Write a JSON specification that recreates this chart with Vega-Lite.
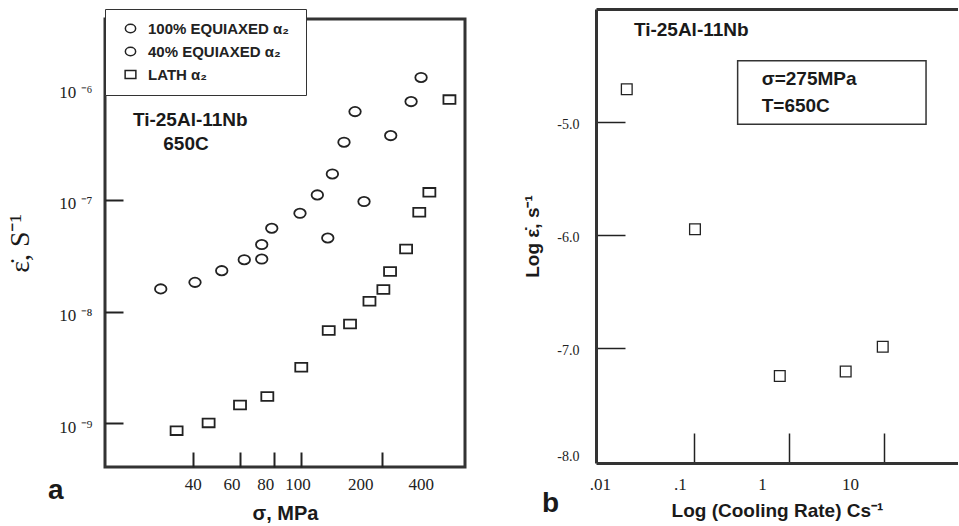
{
  "$schema": "https://vega.github.io/schema/vega-lite/v6.json",
  "background": "white",
  "padding": {"left": 5, "top": 8, "right": 0, "bottom": 0},
  "spacing": 56,
  "config": {
    "view": {"stroke": null},
    "font": "Liberation Sans",
    "axis": {"grid": false, "labelColor": "#222", "titleColor": "#1a1a1a", "tickColor": "#222", "domainColor": "#333"}
  },
  "hconcat": [
    {
      "spacing": 7,
      "vconcat": [
        {
          "width": 360,
          "height": 1,
          "view": {"stroke": null},
          "data": {"values": []},
          "mark": "point"
        },
        {
          "width": 360,
          "height": 448,
          "view": {"stroke": "#333", "strokeWidth": 3},
          "title": {"text": "a", "orient": "bottom", "anchor": "start", "frame": "group", "dx": -57, "dy": -46, "offset": 0, "fontSize": 28, "font": "Liberation Sans", "fontWeight": "bold", "color": "#1a1a1a"},
          "resolve": {"axis": {"x": "independent", "y": "independent"}},
          "layer": [
            {
              "data": {"values": [
                {"stress": 30.5, "rate": 1.60e-8, "series": "100% EQUIAXED  α₂"},
                {"stress": 40.8, "rate": 1.83e-8, "series": "100% EQUIAXED  α₂"},
                {"stress": 51.2, "rate": 2.33e-8, "series": "100% EQUIAXED  α₂"},
                {"stress": 62.0, "rate": 2.92e-8, "series": "100% EQUIAXED  α₂"},
                {"stress": 71.9, "rate": 2.96e-8, "series": "100% EQUIAXED  α₂"},
                {"stress": 71.9, "rate": 3.99e-8, "series": "100% EQUIAXED  α₂"},
                {"stress": 78.3, "rate": 5.58e-8, "series": "100% EQUIAXED  α₂"},
                {"stress": 99.5, "rate": 7.60e-8, "series": "100% EQUIAXED  α₂"},
                {"stress": 115.3, "rate": 1.11e-7, "series": "100% EQUIAXED  α₂"},
                {"stress": 131, "rate": 1.71e-7, "series": "100% EQUIAXED  α₂"},
                {"stress": 144.6, "rate": 3.29e-7, "series": "100% EQUIAXED  α₂"},
                {"stress": 158.8, "rate": 6.18e-7, "series": "100% EQUIAXED  α₂"},
                {"stress": 126, "rate": 4.57e-8, "series": "40% EQUIAXED  α₂"},
                {"stress": 171.4, "rate": 9.68e-8, "series": "40% EQUIAXED  α₂"},
                {"stress": 215, "rate": 3.77e-7, "series": "40% EQUIAXED  α₂"},
                {"stress": 255.6, "rate": 7.60e-7, "series": "40% EQUIAXED  α₂"},
                {"stress": 278.2, "rate": 1.25e-6, "series": "40% EQUIAXED  α₂"},
                {"stress": 34.9, "rate": 8.61e-10, "series": "LATH α₂"},
                {"stress": 45.8, "rate": 1.01e-9, "series": "LATH α₂"},
                {"stress": 59.8, "rate": 1.46e-9, "series": "LATH α₂"},
                {"stress": 75.4, "rate": 1.74e-9, "series": "LATH α₂"},
                {"stress": 100.6, "rate": 3.18e-9, "series": "LATH α₂"},
                {"stress": 127, "rate": 6.78e-9, "series": "LATH α₂"},
                {"stress": 152.2, "rate": 7.76e-9, "series": "LATH α₂"},
                {"stress": 179.5, "rate": 1.24e-8, "series": "LATH α₂"},
                {"stress": 202, "rate": 1.58e-8, "series": "LATH α₂"},
                {"stress": 213.8, "rate": 2.29e-8, "series": "LATH α₂"},
                {"stress": 245, "rate": 3.64e-8, "series": "LATH α₂"},
                {"stress": 274, "rate": 7.76e-8, "series": "LATH α₂"},
                {"stress": 298.5, "rate": 1.17e-7, "series": "LATH α₂"},
                {"stress": 354, "rate": 7.92e-7, "series": "LATH α₂"}
              ]},
              "mark": {"type": "point", "filled": false, "color": "#222", "strokeWidth": 1.8, "size": 100, "opacity": 1},
              "encoding": {
                "x": {
                  "field": "stress", "type": "quantitative",
                  "scale": {"type": "log", "domain": [19, 404], "nice": false},
                  "axis": {
                    "values": [40, 60, 80, 100, 200, 400],
                    "format": "d",
                    "title": "σ, MPa",
                    "domain": false,
                    "tickSize": -15,
                    "tickWidth": 2,
                    "tickOpacity": {"condition": {"test": "datum.value > 300", "value": 0}, "value": 1},
                    "labelOffset": {"condition": [
                      {"test": "datum.value > 300", "value": -43},
                      {"test": "datum.value > 150", "value": -22},
                      {"test": "datum.value > 90", "value": -3},
                      {"test": "datum.value > 50", "value": -9}
                    ], "value": 0},
                    "labelPadding": 24,
                    "labelFont": "Liberation Serif",
                    "labelFontSize": 17,
                    "labelOverlap": false,
                    "labelFlush": false,
                    "labelBound": false,
                    "titleFont": "Liberation Sans",
                    "titleFontWeight": "bold",
                    "titleFontSize": 20,
                    "titlePadding": 11
                  }
                },
                "y": {
                  "field": "rate", "type": "quantitative",
                  "scale": {"type": "log", "domain": [4.07e-10, 4.17e-6], "nice": false},
                  "axis": {
                    "values": [1e-9, 1e-8, 1e-7, 1e-6],
                    "labelExpr": "datum.value < 5e-9 ? '10 ⁻⁹' : datum.value < 5e-8 ? '10 ⁻⁸' : datum.value < 5e-7 ? '10 ⁻⁷' : '10 ⁻⁶'",
                    "title": "ε̇, S⁻¹",
                    "domain": false,
                    "tickSize": -18,
                    "tickWidth": 2,
                    "labelPadding": 31,
                    "labelOffset": 4,
                    "labelFont": "Liberation Serif",
                    "labelFontSize": 17,
                    "labelOverlap": false,
                    "labelFlush": false,
                    "labelBound": false,
                    "titleFont": "Liberation Serif",
                    "titleFontWeight": "normal",
                    "titleFontSize": 28,
                    "titlePadding": 24
                  }
                },
                "shape": {
                  "field": "series", "type": "nominal",
                  "scale": {
                    "domain": ["100% EQUIAXED  α₂", "40% EQUIAXED  α₂", "LATH α₂"],
                    "range": [
                      "M-1.15,0A1.15,0.93,0,1,1,1.15,0A1.15,0.93,0,1,1,-1.15,0Z",
                      "M-1.15,0A1.15,0.93,0,1,1,1.15,0A1.15,0.93,0,1,1,-1.15,0Z",
                      "M-1.2,-0.87H1.2V0.87H-1.2Z"
                    ]
                  },
                  "legend": {
                    "title": null,
                    "orient": "top-left",
                    "offset": 0,
                    "strokeColor": "#333",
                    "fillColor": "white",
                    "padding": 12,
                    "rowPadding": 7,
                    "symbolOffset": 6,
                    "symbolSize": 80,
                    "symbolStrokeWidth": 1.5,
                    "symbolStrokeColor": "#222",
                    "labelOffset": 10,
                    "labelFont": "Liberation Sans",
                    "labelFontWeight": "bold",
                    "labelFontSize": 15,
                    "labelColor": "#222",
                    "labelLimit": 400,
                    "labelExpr": "datum.label + '\u00a0\u00a0\u00a0\u00a0\u00a0\u00a0\u00a0\u00a0\u00a0\u00a0'",
                    "encode": {"legend": {"update": {"strokeWidth": {"value": 2}}}}
                  }
                }
              }
            },
            {
              "data": {"values": [{"t": "Ti-25Al-11Nb"}]},
              "mark": {"type": "text", "font": "Liberation Sans", "fontWeight": "bold", "fontSize": 19, "align": "center", "baseline": "middle", "color": "#1a1a1a"},
              "encoding": {
                "x": {"datum": 39.2, "type": "quantitative", "axis": null},
                "y": {"datum": 5.18e-7, "type": "quantitative", "axis": null},
                "text": {"field": "t"}
              }
            },
            {
              "data": {"values": [{"t": "650C"}]},
              "mark": {"type": "text", "font": "Liberation Sans", "fontWeight": "bold", "fontSize": 19, "align": "center", "baseline": "middle", "color": "#1a1a1a"},
              "encoding": {
                "x": {"datum": 37.8, "type": "quantitative", "axis": null},
                "y": {"datum": 3.15e-7, "type": "quantitative", "axis": null},
                "text": {"field": "t"}
              }
            }
          ]
        }
      ]
    },
    {
      "width": 362,
      "height": 454,
      "view": {"stroke": null},
      "title": {"text": "b", "orient": "bottom", "anchor": "start", "frame": "group", "dx": -54, "dy": -30, "offset": 0, "fontSize": 28, "font": "Liberation Sans", "fontWeight": "bold", "color": "#1a1a1a"},
      "resolve": {"axis": {"x": "independent", "y": "independent"}},
      "layer": [
        {
          "data": {"values": [
            {"cooling": 0.0196, "lograte": -4.71},
            {"cooling": 0.1024, "lograte": -5.95},
            {"cooling": 0.80, "lograte": -7.25},
            {"cooling": 3.95, "lograte": -7.21},
            {"cooling": 9.7, "lograte": -6.99}
          ]},
          "mark": {"type": "point", "shape": "square", "filled": false, "color": "#222", "strokeWidth": 1.3, "size": 115, "opacity": 1},
          "encoding": {
            "x": {
              "field": "cooling", "type": "quantitative",
              "scale": {"type": "log", "domain": [0.0093, 60.1], "nice": false},
              "axis": {
                "values": [0.01, 0.1, 1, 10],
                "labelExpr": "datum.value < 0.05 ? '.01' : datum.value < 0.5 ? '.1' : datum.value < 5 ? '1' : '10'",
                "title": "Log  (Cooling Rate)  Cs⁻¹",
                "domain": true,
                "domainWidth": 3,
                "domainColor": "#333",
                "tickSize": -30,
                "tickWidth": 1.5,
                "tickOpacity": {"condition": {"test": "datum.value < 0.05", "value": 0}, "value": 1},
                "labelOffset": {"condition": [
                  {"test": "datum.value < 0.05", "value": 1},
                  {"test": "datum.value < 0.5", "value": -14},
                  {"test": "datum.value < 5", "value": -27}
                ], "value": -34},
                "labelPadding": 43,
                "labelFont": "Liberation Serif",
                "labelFontSize": 17,
                "labelOverlap": false,
                "labelFlush": false,
                "labelBound": false,
                "titleFont": "Liberation Sans",
                "titleFontWeight": "bold",
                "titleFontSize": 19,
                "titlePadding": 9
              }
            },
            "y": {
              "field": "lograte", "type": "quantitative",
              "scale": {"domain": [-8.02, -4.0], "nice": false, "zero": false},
              "axis": {
                "values": [-8, -7, -6, -5],
                "labelExpr": "'-' + format(abs(datum.value), '.1f')",
                "title": "Log ε̇, s⁻¹",
                "domain": true,
                "domainWidth": 3,
                "domainColor": "#333",
                "tickSize": -29,
                "tickWidth": 1.5,
                "tickOpacity": {"condition": {"test": "datum.value < -7.5", "value": 0}, "value": 1},
                "labelOffset": {"condition": {"test": "datum.value < -7.5", "value": -4}, "value": 3},
                "labelPadding": 46,
                "labelFont": "Liberation Serif",
                "labelFontSize": 14,
                "labelOverlap": false,
                "labelFlush": false,
                "labelBound": false,
                "titleFont": "Liberation Sans",
                "titleFontWeight": "bold",
                "titleFontSize": 19,
                "titlePadding": 14
              }
            }
          }
        },
        {
          "data": {"values": [{"cooling": 1, "lograte": -6}]},
          "mark": {"type": "point", "opacity": 0},
          "encoding": {
            "x": {"field": "cooling", "type": "quantitative", "axis": {"orient": "top", "labels": false, "ticks": false, "title": null, "domain": true, "domainWidth": 3, "domainColor": "#333"}},
            "y": {"field": "lograte", "type": "quantitative", "axis": null}
          }
        },
        {
          "data": {"values": [{"t": "Ti-25Al-11Nb"}]},
          "mark": {"type": "text", "font": "Liberation Sans", "fontWeight": "bold", "fontSize": 19, "align": "left", "baseline": "middle", "color": "#1a1a1a"},
          "encoding": {
            "x": {"datum": 0.0233, "type": "quantitative", "axis": null},
            "y": {"datum": -4.186, "type": "quantitative", "axis": null},
            "text": {"field": "t"}
          }
        },
        {
          "data": {"values": [{"t": "σ=275MPa"}]},
          "mark": {"type": "text", "font": "Liberation Sans", "fontWeight": "bold", "fontSize": 19, "align": "left", "baseline": "middle", "color": "#1a1a1a"},
          "encoding": {
            "x": {"datum": 0.516, "type": "quantitative", "axis": null},
            "y": {"datum": -4.619, "type": "quantitative", "axis": null},
            "text": {"field": "t"}
          }
        },
        {
          "data": {"values": [{"t": "T=650C"}]},
          "mark": {"type": "text", "font": "Liberation Sans", "fontWeight": "bold", "fontSize": 19, "align": "left", "baseline": "middle", "color": "#1a1a1a"},
          "encoding": {
            "x": {"datum": 0.516, "type": "quantitative", "axis": null},
            "y": {"datum": -4.858, "type": "quantitative", "axis": null},
            "text": {"field": "t"}
          }
        },
        {
          "data": {"values": [{"t": "box"}]},
          "mark": {"type": "rect", "fill": null, "stroke": "#333", "strokeWidth": 1.5},
          "encoding": {
            "x": {"datum": 0.288, "type": "quantitative", "axis": null},
            "x2": {"datum": 27.7},
            "y": {"datum": -4.458, "type": "quantitative", "axis": null},
            "y2": {"datum": -5.02}
          }
        }
      ]
    }
  ]
}
